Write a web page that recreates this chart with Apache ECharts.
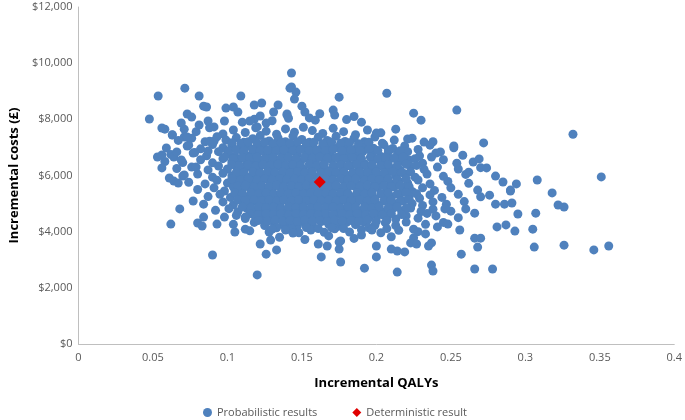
<!DOCTYPE html>
<html><head><meta charset="utf-8">
<script src="https://cdn.jsdelivr.net/npm/echarts@6/dist/echarts.min.js"></script>
<style>html,body{margin:0;padding:0;background:#fff}#c{width:685px;height:420px}</style>
</head><body><div id="c"></div>
<script>
const xTitle = 'Incremental QALYs';
const yTitle = 'Incremental costs (£)';
const seriesNames = ['Probabilistic results', 'Deterministic result'];
const deterministic = [[0.162, 5770]];
const probabilistic = [
[0.063,7450],[0.071,7650],[0.079,7560],[0.088,7700],[0.097,7480],[0.104,7620],[0.112,7530],[0.119,7700],[0.126,7580],[0.133,7470],[0.139,7660],[0.145,7540],[0.151,7720],[0.157,7600],[0.164,7500],[0.171,7680],[0.178,7560],[0.186,7450],[0.194,7620],[0.203,7520],
[0.067,7250],[0.076,7330],[0.085,7200],[0.093,7380],[0.099,7260],[0.106,7350],[0.111,7180],[0.117,7310],[0.122,7420],[0.128,7230],[0.134,7340],[0.139,7200],[0.144,7400],[0.15,7280],[0.155,7180],[0.161,7360],[0.167,7250],[0.173,7400],[0.179,7210],[0.185,7330],[0.192,7200],[0.199,7370],[0.212,7260],[0.224,7330],[0.238,7200],
[0.059,6980],[0.073,7050],[0.082,6950],[0.09,7100],[0.097,6990],[0.103,7080],[0.108,6930],[0.114,7050],[0.119,6970],[0.124,7110],[0.13,6990],[0.135,7060],[0.141,6940],[0.146,7090],[0.152,6980],[0.157,7070],[0.163,6950],[0.168,7100],[0.174,6990],[0.18,7060],[0.186,6940],[0.192,7080],[0.198,6970],[0.205,7100],[0.211,6960],[0.219,7050],[0.228,6930],[0.236,7080],[0.252,6990],
[0.062,6750],[0.078,6820],[0.086,6700],[0.094,6850],[0.1,6760],[0.105,6680],[0.111,6820],[0.116,6730],[0.121,6850],[0.126,6700],[0.131,6800],[0.137,6720],[0.142,6860],[0.147,6740],[0.153,6820],[0.158,6700],[0.164,6840],[0.169,6750],[0.175,6680],[0.18,6830],[0.186,6720],[0.191,6860],[0.197,6750],[0.203,6680],[0.208,6830],[0.214,6720],[0.221,6850],[0.229,6700],[0.24,6800],[0.258,6720],
[0.058,6500],[0.07,6460],[0.082,6560],[0.09,6450],[0.097,6600],[0.103,6480],[0.108,6580],[0.113,6430],[0.118,6540],[0.123,6460],[0.128,6600],[0.133,6500],[0.138,6420],[0.143,6560],[0.149,6470],[0.154,6600],[0.159,6510],[0.165,6430],[0.17,6560],[0.176,6480],[0.181,6600],[0.187,6500],[0.192,6420],[0.198,6560],[0.203,6460],[0.209,6590],[0.215,6480],[0.222,6550],[0.231,6440],[0.245,6560],[0.265,6480],
[0.066,6250],[0.076,6300],[0.087,6200],[0.094,6340],[0.1,6230],[0.106,6310],[0.111,6180],[0.116,6290],[0.121,6210],[0.126,6350],[0.131,6240],[0.136,6320],[0.141,6190],[0.146,6300],[0.151,6220],[0.156,6350],[0.162,6250],[0.167,6180],[0.172,6320],[0.178,6230],[0.183,6340],[0.188,6200],[0.194,6300],[0.199,6220],[0.205,6350],[0.21,6240],[0.216,6190],[0.223,6310],[0.232,6220],[0.241,6300],[0.255,6230],[0.27,6280],
[0.07,5980],[0.08,6050],[0.09,5940],[0.097,6080],[0.103,5990],[0.109,6060],[0.114,5930],[0.119,6040],[0.124,5960],[0.129,6100],[0.134,6000],[0.139,5920],[0.144,6060],[0.149,5980],[0.154,6090],[0.16,5950],[0.165,6040],[0.17,5970],[0.176,6100],[0.181,5990],[0.186,6060],[0.191,5930],[0.197,6050],[0.202,5960],[0.207,6090],[0.213,5990],[0.219,6060],[0.226,5940],[0.234,6050],[0.245,5970],[0.26,6040],[0.28,5980],
[0.074,5760],[0.085,5700],[0.093,5830],[0.1,5730],[0.106,5850],[0.112,5690],[0.117,5800],[0.122,5720],[0.127,5860],[0.132,5750],[0.137,5680],[0.142,5820],[0.147,5740],[0.152,5860],[0.157,5700],[0.167,5830],[0.172,5710],[0.178,5850],[0.183,5750],[0.188,5680],[0.193,5820],[0.199,5730],[0.204,5860],[0.21,5700],[0.215,5800],[0.221,5730],[0.228,5840],[0.236,5700],[0.248,5790],[0.262,5720],[0.285,5770],
[0.08,5500],[0.091,5560],[0.098,5450],[0.104,5590],[0.11,5480],[0.115,5560],[0.12,5430],[0.125,5540],[0.13,5470],[0.135,5600],[0.14,5500],[0.145,5420],[0.15,5560],[0.155,5470],[0.16,5590],[0.165,5500],[0.17,5430],[0.175,5560],[0.18,5470],[0.186,5600],[0.191,5510],[0.196,5440],[0.201,5570],[0.207,5480],[0.212,5600],[0.218,5500],[0.224,5430],[0.231,5560],[0.239,5470],[0.25,5560],[0.268,5480],
[0.087,5250],[0.095,5330],[0.102,5220],[0.108,5350],[0.113,5240],[0.118,5310],[0.123,5190],[0.128,5300],[0.133,5230],[0.138,5350],[0.143,5260],[0.148,5180],[0.153,5320],[0.158,5240],[0.163,5360],[0.168,5260],[0.173,5190],[0.178,5320],[0.184,5230],[0.189,5350],[0.194,5260],[0.199,5180],[0.205,5320],[0.21,5230],[0.216,5350],[0.222,5250],[0.229,5190],[0.236,5310],[0.244,5220],[0.255,5330],[0.27,5240],
[0.084,4980],[0.097,5060],[0.104,4960],[0.11,5090],[0.115,4990],[0.12,5060],[0.125,4940],[0.13,5050],[0.135,4970],[0.14,5100],[0.145,5000],[0.15,4930],[0.155,5070],[0.16,4990],[0.165,5100],[0.17,5010],[0.175,4940],[0.18,5070],[0.186,4980],[0.191,5100],[0.196,5010],[0.201,4940],[0.207,5070],[0.212,4990],[0.218,5090],[0.224,5000],[0.231,4930],[0.238,5060],[0.247,4980],[0.259,5070],
[0.092,4760],[0.101,4820],[0.107,4710],[0.113,4840],[0.118,4740],[0.123,4820],[0.128,4700],[0.133,4800],[0.138,4730],[0.143,4850],[0.148,4760],[0.153,4690],[0.158,4820],[0.163,4740],[0.168,4860],[0.173,4760],[0.178,4690],[0.183,4820],[0.189,4740],[0.194,4850],[0.2,4760],[0.205,4700],[0.211,4830],[0.217,4740],[0.223,4840],[0.23,4720],[0.238,4800],[0.25,4730],[0.234,4650],
[0.098,4520],[0.106,4580],[0.112,4470],[0.118,4590],[0.124,4490],[0.129,4570],[0.134,4450],[0.139,4560],[0.144,4480],[0.149,4600],[0.154,4510],[0.159,4440],[0.164,4570],[0.169,4490],[0.174,4610],[0.179,4510],[0.185,4440],[0.19,4570],[0.195,4490],[0.201,4600],[0.207,4510],[0.213,4450],[0.22,4570],[0.228,4480],[0.24,4560],[0.255,4500],
[0.104,4260],[0.118,4330],[0.125,4220],[0.131,4350],[0.137,4250],[0.142,4320],[0.147,4200],[0.152,4310],[0.157,4240],[0.163,4360],[0.168,4260],[0.174,4190],[0.18,4330],[0.186,4250],[0.192,4340],[0.199,4230],[0.206,4320],[0.213,4220],[0.22,4340],[0.233,4260],[0.245,4330],
[0.115,4030],[0.128,3990],[0.14,4080],[0.148,3960],[0.156,4060],[0.165,3980],[0.172,4100],[0.182,3990],[0.19,4070],[0.203,3960],[0.215,4050],[0.228,4000],
[0.135,3800],[0.152,3720],[0.168,3850],[0.185,3760],[0.21,3820],[0.225,3780],
[0.103,7170],[0.109,7140],[0.114,7200],[0.12,7150],[0.125,7190],[0.131,7130],[0.136,7180],[0.142,7140],[0.147,7200],[0.153,7140],[0.158,7180],[0.164,7130],[0.17,7190],[0.176,7150],[0.182,7170],[0.188,7130],[0.195,7180],[0.204,7150],
[0.101,6880],[0.106,6920],[0.111,6880],[0.117,6930],[0.122,6890],[0.127,6910],[0.133,6880],[0.138,6920],[0.144,6890],[0.149,6930],[0.155,6880],[0.16,6910],[0.166,6890],[0.171,6930],[0.177,6880],[0.183,6910],[0.189,6880],[0.195,6920],[0.201,6890],[0.208,6920],[0.216,6880],
[0.098,6650],[0.104,6600],[0.11,6640],[0.115,6610],[0.12,6650],[0.125,6600],[0.131,6640],[0.136,6610],[0.141,6650],[0.146,6600],[0.152,6640],[0.157,6610],[0.162,6650],[0.167,6610],[0.173,6640],[0.178,6600],[0.184,6640],[0.19,6610],[0.196,6650],[0.201,6600],[0.206,6640],[0.212,6610],[0.218,6650],[0.226,6600],
[0.103,6390],[0.108,6350],[0.114,6380],[0.119,6340],[0.124,6390],[0.129,6360],[0.134,6400],[0.139,6350],[0.144,6390],[0.149,6350],[0.155,6400],[0.16,6360],[0.165,6390],[0.171,6340],[0.176,6380],[0.181,6350],[0.187,6400],[0.192,6360],[0.197,6390],[0.203,6350],[0.208,6390],[0.214,6360],[0.22,6400],[0.227,6360],
[0.106,6120],[0.111,6090],[0.117,6130],[0.122,6090],[0.127,6140],[0.132,6100],[0.137,6130],[0.142,6090],[0.147,6140],[0.152,6100],[0.157,6130],[0.163,6090],[0.168,6140],[0.173,6100],[0.178,6130],[0.184,6090],[0.189,6140],[0.194,6100],[0.2,6130],[0.205,6090],[0.211,6140],[0.217,6100],[0.223,6130],
[0.103,5880],[0.109,5840],[0.114,5890],[0.12,5850],[0.125,5880],[0.13,5840],[0.135,5890],[0.14,5850],[0.145,5880],[0.15,5840],[0.155,5890],[0.161,5850],[0.166,5880],[0.171,5840],[0.176,5890],[0.181,5850],[0.186,5880],[0.192,5840],[0.197,5890],[0.202,5850],[0.208,5880],[0.214,5840],[0.22,5890],
[0.107,5620],[0.112,5650],[0.118,5600],[0.123,5640],[0.128,5610],[0.133,5650],[0.138,5600],[0.143,5640],[0.148,5610],[0.153,5650],[0.158,5600],[0.163,5640],[0.168,5610],[0.173,5650],[0.178,5600],[0.183,5640],[0.189,5610],[0.194,5650],[0.199,5600],[0.205,5640],[0.21,5610],[0.216,5650],[0.222,5600],
[0.105,5380],[0.11,5340],[0.116,5390],[0.121,5350],[0.126,5380],[0.131,5340],[0.136,5390],[0.141,5350],[0.146,5380],[0.151,5340],[0.156,5390],[0.161,5350],[0.166,5380],[0.171,5340],[0.176,5390],[0.181,5350],[0.187,5380],[0.192,5340],[0.197,5390],[0.203,5350],[0.208,5380],[0.214,5340],[0.22,5390],[0.227,5350],
[0.107,5130],[0.112,5100],[0.118,5140],[0.123,5100],[0.128,5130],[0.133,5090],[0.138,5140],[0.143,5100],[0.148,5130],[0.153,5090],[0.158,5140],[0.163,5100],[0.168,5130],[0.173,5090],[0.178,5140],[0.183,5100],[0.189,5130],[0.194,5090],[0.199,5140],[0.205,5100],[0.21,5130],[0.216,5090],[0.222,5140],
[0.11,4880],[0.116,4850],[0.121,4890],[0.126,4850],[0.131,4880],[0.136,4840],[0.141,4890],[0.146,4850],[0.151,4880],[0.156,4840],[0.161,4890],[0.166,4850],[0.171,4880],[0.176,4840],[0.181,4890],[0.186,4850],[0.192,4880],[0.197,4840],[0.202,4890],[0.208,4850],[0.214,4880],[0.22,4840],
[0.115,4640],[0.121,4610],[0.126,4650],[0.131,4610],[0.136,4640],[0.141,4600],[0.146,4650],[0.151,4610],[0.156,4640],[0.161,4600],[0.166,4650],[0.171,4610],[0.177,4640],[0.182,4600],[0.187,4650],[0.193,4610],[0.198,4640],[0.204,4600],[0.21,4650],[0.217,4610],
[0.121,4400],[0.127,4370],[0.132,4410],[0.137,4370],[0.142,4400],[0.147,4360],[0.152,4410],[0.157,4370],[0.162,4400],[0.167,4360],[0.172,4410],[0.177,4370],[0.183,4400],[0.188,4360],[0.194,4410],[0.2,4370],[0.207,4400],
[0.133,4140],[0.143,4110],[0.153,4150],[0.161,4110],[0.17,4140],[0.178,4110],[0.195,4140],[0.207,4110],
[0.118,8000],[0.13,7950],[0.155,8050],[0.162,8200],[0.185,8100],[0.19,7900],[0.14,8150],
[0.0476,8010],[0.0535,8830],[0.0714,9110],[0.143,9650],[0.142,9110],[0.207,8930],[0.175,8790],[0.225,8220],[0.254,8330],[0.230,7970],[0.332,7470],[0.351,5950],[0.213,7650],[0.200,7510],[0.272,7160],[0.269,6590],[0.252,7050],[0.243,6840],[0.232,7190],[0.221,7300],[0.308,5840],[0.294,5700],[0.318,5380],[0.290,5480],[0.274,6270],[0.262,6120],[0.254,6440],[0.237,6660],
[0.322,4950],[0.326,4880],[0.307,4660],[0.305,4090],[0.306,3450],[0.326,3520],[0.346,3350],[0.356,3490],[0.293,4020],[0.287,4240],[0.281,4170],[0.295,4630],[0.290,5450],[0.280,4980],[0.286,4980],[0.291,5020],[0.276,5300],[0.278,2670],[0.266,2670],[0.268,3450],[0.266,3770],[0.270,3770],[0.257,3200],[0.256,4060],[0.248,4270],[0.237,3600],[0.235,3490],[0.237,2810],[0.238,2600],[0.214,2560],[0.192,2700],[0.200,3100],[0.200,3490],[0.210,3380],[0.214,3310],[0.219,3280],[0.223,3600],[0.227,3560],[0.233,3920],[0.175,3630],[0.176,2920],[0.266,4660],[0.260,4810],[0.246,4810],[0.190,3880],[0.197,4060],[0.225,4090],[0.241,4170],
[0.062,4270],[0.068,4810],[0.077,5090],[0.080,4310],[0.083,4200],[0.084,4520],[0.093,4270],[0.090,3170],[0.120,2460],[0.122,3560],[0.129,3700],[0.126,3200],[0.133,3350],[0.105,3990],[0.112,4090],[0.112,4520],[0.130,4090],[0.161,3560],[0.167,3490],[0.163,3100],[0.175,3380],[0.176,3670],[0.139,4060],[0.144,3950],
[0.081,8830],[0.058,7650],[0.056,7690],[0.063,7440],[0.069,7870],[0.073,8190],[0.076,8080],[0.084,8470],[0.086,8440],[0.081,7800],[0.087,7940],[0.091,7730],[0.053,6660],[0.056,6730],[0.056,6270],[0.064,6660],[0.066,6840],[0.069,6550],[0.074,7080],[0.071,7370],[0.073,7370],[0.061,5910],[0.064,5800],[0.067,5730],[0.071,6020],[0.077,6800],[0.079,6300],[0.088,7220],[0.091,7220],[0.087,6870],[0.099,8400],[0.104,8440],[0.107,8260],[0.109,8830],[0.118,8510],[0.123,8580],[0.122,8120],[0.098,7940],[0.110,7900],[0.115,7940],[0.12,7730],[0.126,7870],[0.134,8510],[0.131,8260],[0.140,8190],[0.141,8040],[0.143,9150],[0.146,8970],[0.145,8720],[0.150,8470],[0.152,8260],[0.159,7970],[0.171,8330],[0.172,8150],[0.180,7990]
];
const chart = echarts.init(document.getElementById('c'), null, {renderer: 'canvas'});
const font = 'Open Sans';
chart.setOption({
  animation: false,
  backgroundColor: '#fff',
  grid: {left: 75, right: 5, top: 7, bottom: 76},
  legend: {
    top: 402, left: 198, itemGap: 35, itemWidth: 9, itemHeight: 9,
    textStyle: {fontFamily: font, fontSize: 11, color: '#595959'},
    data: [{name: seriesNames[0], icon: 'circle'}, {name: seriesNames[1], icon: 'diamond'}]
  },
  xAxis: {
    type: 'value', min: 0, max: 0.4, interval: 0.05,
    name: xTitle, nameLocation: 'middle', nameGap: 33,
    nameTextStyle: {fontFamily: font, fontSize: 13, fontWeight: 'bold', color: '#000'},
    axisLine: {show: true, lineStyle: {color: '#bfbfbf', width: 1}},
    axisTick: {show: false}, splitLine: {show: false},
    axisLabel: {fontFamily: font, fontSize: 11, color: '#595959', margin: 8}
  },
  yAxis: {
    type: 'value', min: 0, max: 12000, interval: 2000,
    name: yTitle, nameLocation: 'middle', nameGap: 57,
    nameTextStyle: {fontFamily: font, fontSize: 13, fontWeight: 'bold', color: '#000'},
    axisLine: {show: true, lineStyle: {color: '#bfbfbf', width: 1}},
    axisTick: {show: false}, splitLine: {show: false},
    axisLabel: {fontFamily: font, fontSize: 11, color: '#595959', margin: 6,
      formatter: v => '$' + v.toLocaleString('en-US')}
  },
  series: [
    {name: seriesNames[0], type: 'scatter', data: probabilistic, symbol: 'circle', symbolSize: 9,
     itemStyle: {color: '#4f81bd', opacity: 1}},
    {name: seriesNames[1], type: 'scatter', data: deterministic, symbol: 'diamond', symbolSize: 12,
     itemStyle: {color: '#e00000', opacity: 1}, z: 5}
  ]
});
</script></body></html>
